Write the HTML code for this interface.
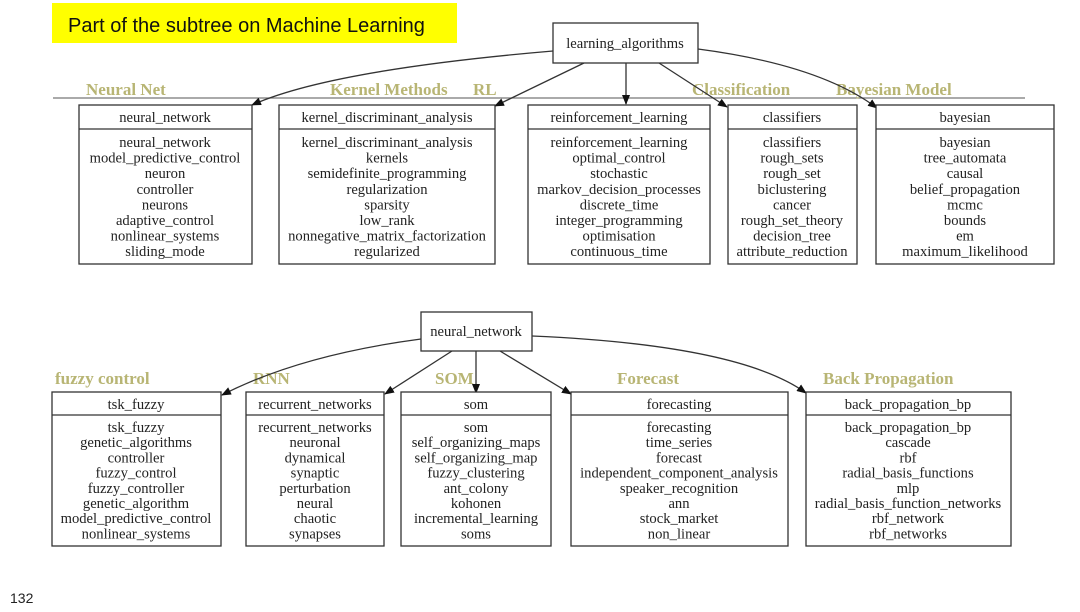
<!DOCTYPE html>
<html><head><meta charset="utf-8"><style>
body{margin:0;background:#fff;width:1080px;height:607px;overflow:hidden}
svg text{font-family:"Liberation Serif",serif}
</style></head><body>
<svg width="1080" height="607" viewBox="0 0 1080 607" xmlns="http://www.w3.org/2000/svg">
<defs><marker id="a" markerWidth="10" markerHeight="8" refX="9" refY="4" orient="auto" markerUnits="userSpaceOnUse"><path d="M0,0 L10,4 L0,8 z" fill="#111"/></marker></defs>
<rect x="52" y="3" width="405" height="40" fill="#ffff00"/>
<text x="68" y="32" font-size="20" style="font-family:'Liberation Sans',sans-serif" fill="#111">Part of the subtree on Machine Learning</text>
<line x1="53" y1="98" x2="1025" y2="98" stroke="#777" stroke-width="1.2"/>
<g font-size="17" font-weight="bold" fill="#b8b574">
<text x="86" y="95">Neural Net</text><text x="330" y="95">Kernel Methods</text><text x="473" y="95">RL</text>
<text x="692" y="95">Classification</text><text x="836" y="95">Bayesian Model</text>
<text x="55" y="384">fuzzy control</text><text x="253" y="384">RNN</text><text x="435" y="384">SOM</text>
<text x="617" y="384">Forecast</text><text x="823" y="384">Back Propagation</text>
</g>
<g fill="none" stroke="#333" stroke-width="1.3" marker-end="url(#a)">
<path d="M553,51 Q330,70 252,105"/>
<path d="M584,63 L495,106"/>
<path d="M626,63 L626,104"/>
<path d="M659,63 L727,107"/>
<path d="M698,49 Q820,65 877,108"/>
<path d="M421,339 Q300,355 222,395"/>
<path d="M452,351 L385,394"/>
<path d="M476,351 L476,393"/>
<path d="M500,351 L571,394"/>
<path d="M532,336 Q740,345 806,393"/>
</g>
<g fill="#fff" stroke="#333" stroke-width="1.3">
<rect x="553" y="23" width="145" height="40"/>
<rect x="421" y="312" width="111" height="39"/>
<rect x="79" y="105" width="173" height="159"/><rect x="279" y="105" width="216" height="159"/>
<rect x="528" y="105" width="182" height="159"/><rect x="728" y="105" width="129" height="159"/>
<rect x="876" y="105" width="178" height="159"/>
<rect x="52" y="392" width="169" height="154"/><rect x="246" y="392" width="138" height="154"/>
<rect x="401" y="392" width="150" height="154"/><rect x="571" y="392" width="217" height="154"/>
<rect x="806" y="392" width="205" height="154"/>
</g>
<g stroke="#333" stroke-width="1.2">
<line x1="79" y1="129" x2="252" y2="129"/><line x1="279" y1="129" x2="495" y2="129"/>
<line x1="528" y1="129" x2="710" y2="129"/><line x1="728" y1="129" x2="857" y2="129"/>
<line x1="876" y1="129" x2="1054" y2="129"/>
<line x1="52" y1="415" x2="221" y2="415"/><line x1="246" y1="415" x2="384" y2="415"/>
<line x1="401" y1="415" x2="551" y2="415"/><line x1="571" y1="415" x2="788" y2="415"/>
<line x1="806" y1="415" x2="1011" y2="415"/>
</g>
<g font-size="14.6" fill="#222" text-anchor="middle">
<text x="625" y="48">learning_algorithms</text>
<text x="476" y="336">neural_network</text>
<text x="165" y="122">neural_network</text><text x="387" y="122">kernel_discriminant_analysis</text>
<text x="619" y="122">reinforcement_learning</text><text x="792" y="122">classifiers</text><text x="965" y="122">bayesian</text>
<text x="136" y="409">tsk_fuzzy</text><text x="315" y="409">recurrent_networks</text><text x="476" y="409">som</text>
<text x="679" y="409">forecasting</text><text x="908" y="409">back_propagation_bp</text>
</g>
<g font-size="14.6" fill="#222" text-anchor="middle">
<text x="165" y="147"><tspan x="165">neural_network</tspan><tspan x="165" dy="15.6">model_predictive_control</tspan><tspan x="165" dy="15.6">neuron</tspan><tspan x="165" dy="15.6">controller</tspan><tspan x="165" dy="15.6">neurons</tspan><tspan x="165" dy="15.6">adaptive_control</tspan><tspan x="165" dy="15.6">nonlinear_systems</tspan><tspan x="165" dy="15.6">sliding_mode</tspan></text>
<text x="387" y="147"><tspan x="387">kernel_discriminant_analysis</tspan><tspan x="387" dy="15.6">kernels</tspan><tspan x="387" dy="15.6">semidefinite_programming</tspan><tspan x="387" dy="15.6">regularization</tspan><tspan x="387" dy="15.6">sparsity</tspan><tspan x="387" dy="15.6">low_rank</tspan><tspan x="387" dy="15.6">nonnegative_matrix_factorization</tspan><tspan x="387" dy="15.6">regularized</tspan></text>
<text x="619" y="147"><tspan x="619">reinforcement_learning</tspan><tspan x="619" dy="15.6">optimal_control</tspan><tspan x="619" dy="15.6">stochastic</tspan><tspan x="619" dy="15.6">markov_decision_processes</tspan><tspan x="619" dy="15.6">discrete_time</tspan><tspan x="619" dy="15.6">integer_programming</tspan><tspan x="619" dy="15.6">optimisation</tspan><tspan x="619" dy="15.6">continuous_time</tspan></text>
<text x="792" y="147"><tspan x="792">classifiers</tspan><tspan x="792" dy="15.6">rough_sets</tspan><tspan x="792" dy="15.6">rough_set</tspan><tspan x="792" dy="15.6">biclustering</tspan><tspan x="792" dy="15.6">cancer</tspan><tspan x="792" dy="15.6">rough_set_theory</tspan><tspan x="792" dy="15.6">decision_tree</tspan><tspan x="792" dy="15.6">attribute_reduction</tspan></text>
<text x="965" y="147"><tspan x="965">bayesian</tspan><tspan x="965" dy="15.6">tree_automata</tspan><tspan x="965" dy="15.6">causal</tspan><tspan x="965" dy="15.6">belief_propagation</tspan><tspan x="965" dy="15.6">mcmc</tspan><tspan x="965" dy="15.6">bounds</tspan><tspan x="965" dy="15.6">em</tspan><tspan x="965" dy="15.6">maximum_likelihood</tspan></text>
<text x="136" y="432"><tspan x="136">tsk_fuzzy</tspan><tspan x="136" dy="15.2">genetic_algorithms</tspan><tspan x="136" dy="15.2">controller</tspan><tspan x="136" dy="15.2">fuzzy_control</tspan><tspan x="136" dy="15.2">fuzzy_controller</tspan><tspan x="136" dy="15.2">genetic_algorithm</tspan><tspan x="136" dy="15.2">model_predictive_control</tspan><tspan x="136" dy="15.2">nonlinear_systems</tspan></text>
<text x="315" y="432"><tspan x="315">recurrent_networks</tspan><tspan x="315" dy="15.2">neuronal</tspan><tspan x="315" dy="15.2">dynamical</tspan><tspan x="315" dy="15.2">synaptic</tspan><tspan x="315" dy="15.2">perturbation</tspan><tspan x="315" dy="15.2">neural</tspan><tspan x="315" dy="15.2">chaotic</tspan><tspan x="315" dy="15.2">synapses</tspan></text>
<text x="476" y="432"><tspan x="476">som</tspan><tspan x="476" dy="15.2">self_organizing_maps</tspan><tspan x="476" dy="15.2">self_organizing_map</tspan><tspan x="476" dy="15.2">fuzzy_clustering</tspan><tspan x="476" dy="15.2">ant_colony</tspan><tspan x="476" dy="15.2">kohonen</tspan><tspan x="476" dy="15.2">incremental_learning</tspan><tspan x="476" dy="15.2">soms</tspan></text>
<text x="679" y="432"><tspan x="679">forecasting</tspan><tspan x="679" dy="15.2">time_series</tspan><tspan x="679" dy="15.2">forecast</tspan><tspan x="679" dy="15.2">independent_component_analysis</tspan><tspan x="679" dy="15.2">speaker_recognition</tspan><tspan x="679" dy="15.2">ann</tspan><tspan x="679" dy="15.2">stock_market</tspan><tspan x="679" dy="15.2">non_linear</tspan></text>
<text x="908" y="432"><tspan x="908">back_propagation_bp</tspan><tspan x="908" dy="15.2">cascade</tspan><tspan x="908" dy="15.2">rbf</tspan><tspan x="908" dy="15.2">radial_basis_functions</tspan><tspan x="908" dy="15.2">mlp</tspan><tspan x="908" dy="15.2">radial_basis_function_networks</tspan><tspan x="908" dy="15.2">rbf_network</tspan><tspan x="908" dy="15.2">rbf_networks</tspan></text>
</g>
<text x="10" y="603" font-size="14" style="font-family:'Liberation Sans',sans-serif" fill="#222">132</text>
</svg>
</body></html>
